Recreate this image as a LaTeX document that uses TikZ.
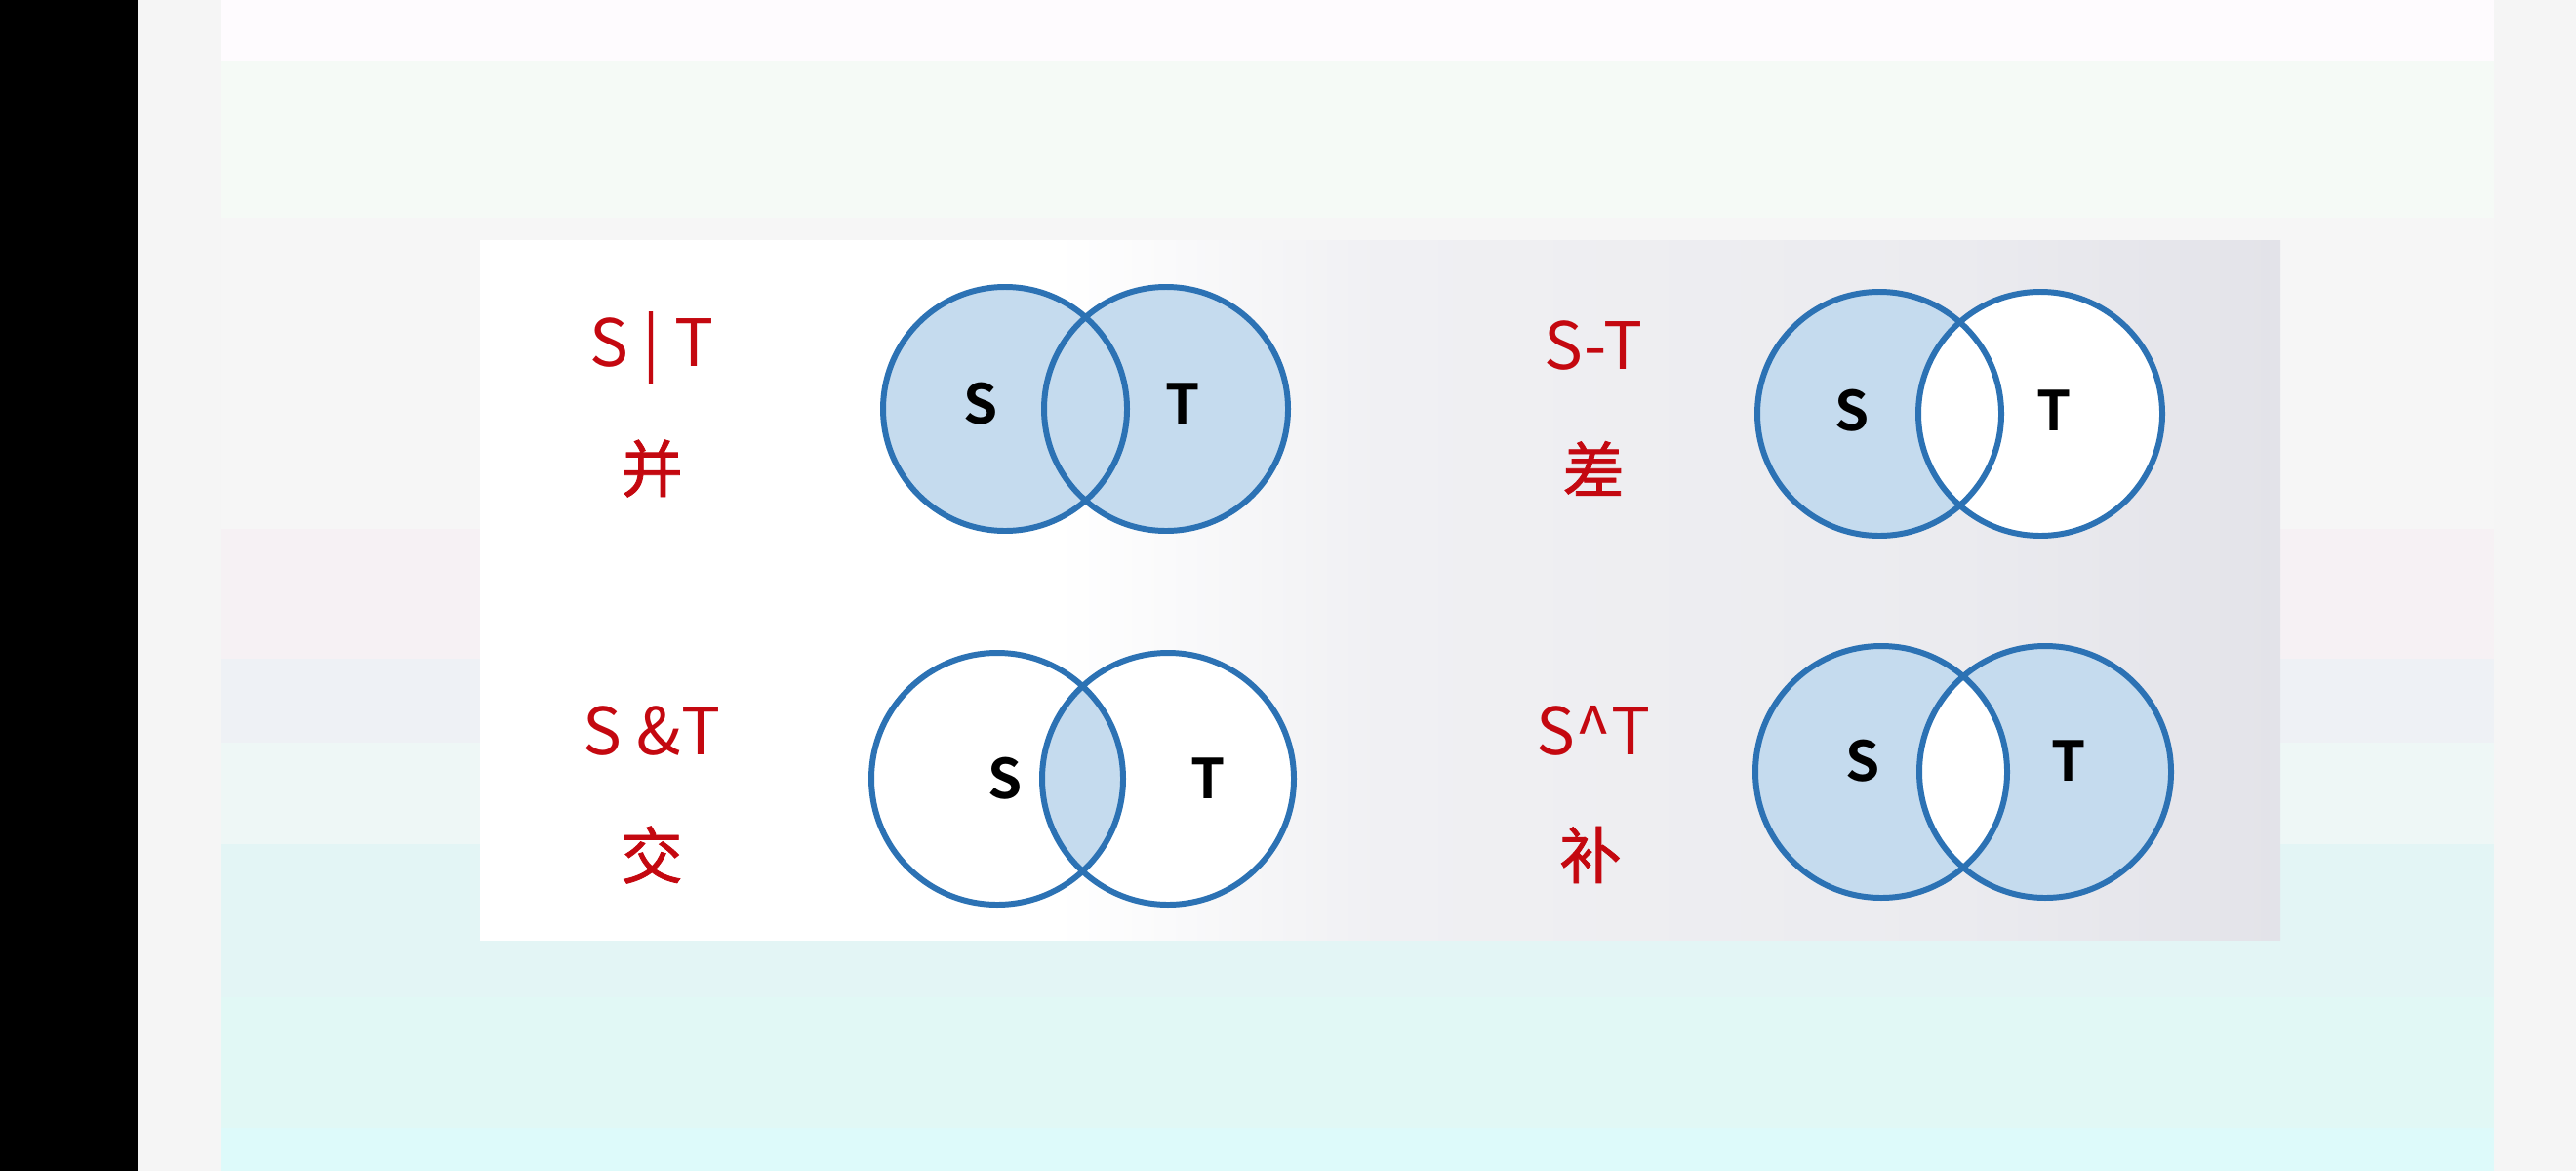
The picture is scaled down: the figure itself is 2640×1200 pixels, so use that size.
\documentclass[tikz,border=0pt]{standalone}
\usepackage{fontspec}
\setmainfont{Noto Sans CJK SC}[BoldFont={* Bold}]
\newfontfamily\cjk{Noto Sans CJK SC}[FakeBold=1.2]
\usepackage{tikz}

\definecolor{opred}{RGB}{196,8,16}
\definecolor{setline}{RGB}{44,114,180}
\definecolor{setblue}{RGB}{197,219,238}
\definecolor{pgrayA}{RGB}{240,240,243}
\definecolor{pgrayB}{RGB}{235,235,239}
\definecolor{pgrayC}{RGB}{227,227,233}
\pgfdeclarehorizontalshading{panelshade}{100bp}{color(0bp)=(white); color(25bp)=(white); color(41bp)=(white); color(50bp)=(pgrayA); color(66bp)=(pgrayB); color(75bp)=(pgrayC); color(100bp)=(pgrayC)}

\begin{document}
\begin{tikzpicture}[x=0.01cm,y=-0.01cm,
    oplabel/.style={text=opred,font=\fontsize{19}{22}\selectfont},
    opname/.style={text=opred,font=\cjk\fontsize{18}{20}\selectfont},
    setname/.style={font=\bfseries\fontsize{16}{18}\selectfont},
    setedge/.style={draw=setline,line width=1.7pt}]
  \useasboundingbox (0,0) rectangle (2640,1200);
  \fill[black] (0,0) rectangle (141,1200);
  \fill[black!4] (141,0) rectangle (226,1200);
  \fill[black!4] (2556,0) rectangle (2640,1200);
  \foreach \ya/\yb/\c in {0/63/FEFBFE,63/223/F5FAF6,223/542/F6F6F6,542/675/F6F1F4,
      675/761/EEF1F5,761/865/EEF7F6,865/1022/E3F5F5,1022/1156/E1F8F5,1156/1200/DDFAFA}{
    \definecolor{band}{HTML}{\c}
    \fill[band] (226,\ya) rectangle (2556,\yb);
  }
  \shade[shading=panelshade] (492,246) rectangle (2337,963);

  \coordinate (uS) at (1030,419);
  \coordinate (uT) at (1195,419);
  \coordinate (dS) at (1926,424);
  \coordinate (dT) at (2091,424);
  \coordinate (iS) at (1022,798);
  \coordinate (iT) at (1197,798);
  \coordinate (xS) at (1928,791);
  \coordinate (xT) at (2096,791);

  \fill[setblue] (uS) circle[radius=125] (uT) circle[radius=125];
  \draw[setedge] (uS) circle[radius=125] (uT) circle[radius=125];

  \fill[setblue] (dS) circle[radius=125];
  \fill[white] (dT) circle[radius=125];
  \draw[setedge] (dS) circle[radius=125] (dT) circle[radius=125];

  \fill[white] (iS) circle[radius=129] (iT) circle[radius=129];
  \begin{scope}
    \clip (iS) circle[radius=129];
    \fill[setblue] (iT) circle[radius=129];
  \end{scope}
  \draw[setedge] (iS) circle[radius=129] (iT) circle[radius=129];

  \fill[setblue] (xS) circle[radius=129] (xT) circle[radius=129];
  \begin{scope}
    \clip (xS) circle[radius=129];
    \fill[white] (xT) circle[radius=129];
  \end{scope}
  \draw[setedge] (xS) circle[radius=129] (xT) circle[radius=129];

  \node[oplabel] (unionop) at (668,357) {S | T};
  \node[opname] (unionname) at (668,480) {并};
  \node[oplabel] (diffop) at (1633,354) {S-T};
  \node[opname] (diffname) at (1633,480) {差};
  \node[oplabel] (interop) at (668,749) {S \&T};
  \node[opname] (intername) at (668,876) {交};
  \node[oplabel] (xorop) at (1633,749) {S\^{}T};
  \node[opname] (xorname) at (1630,876) {补};

  \node[setname] (uSname) at (1005,414) {S};
  \node[setname] (uTname) at (1212,414) {T};
  \node[setname] (dSname) at (1898,421) {S};
  \node[setname] (dTname) at (2105,421) {T};
  \node[setname] (iSname) at (1030,798) {S};
  \node[setname] (iTname) at (1238,798) {T};
  \node[setname] (xSname) at (1909,780) {S};
  \node[setname] (xTname) at (2120,780) {T};
\end{tikzpicture}
\end{document}
